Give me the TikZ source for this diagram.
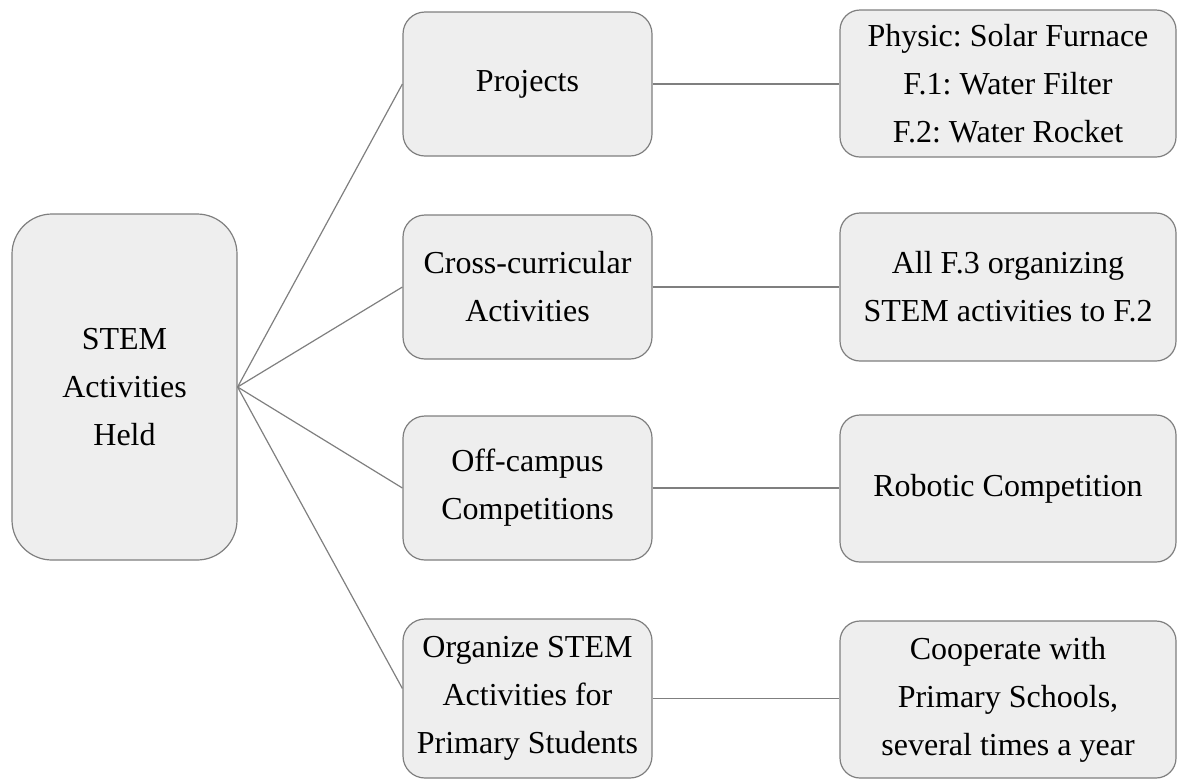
\documentclass[tikz,border=0pt]{standalone}
\usepackage{fontspec}
\setmainfont{Liberation Serif}
\definecolor{boxfill}{HTML}{EEEEEE}
\definecolor{boxline}{HTML}{7F7F7F}
\frenchspacing

\begin{document}
\begin{tikzpicture}[x=.5pt, y=-.5pt,
    box/.style={draw=boxline, fill=boxfill, line width=.6pt, align=center,
      inner sep=0pt, font=\fontsize{16}{24}\selectfont},
    mid/.style={box, rounded corners=11pt, minimum width=124.5pt, minimum height=72pt},
    leaf/.style={box, rounded corners=10pt, minimum width=168pt, minimum height=73.5pt},
    link/.style={draw=boxline, line width=.6pt}]
  \useasboundingbox (0,0) rectangle (1177,778);
  \node[box, rounded corners=20pt, minimum width=112.5pt, minimum height=173pt] (hub) at (124.5,387) {STEM\\Activities\\Held};

  \node[mid] (proj) at (527.5,84) {Projects};
  \node[mid] (cross) at (527.5,287) {Cross-curricular\\Activities};
  \node[mid] (off) at (527.5,488) {Off-campus\\Competitions};
  \node[mid, minimum height=79.5pt] (org) at (527.5,698.5) {Organize STEM\\Activities for\\Primary Students};

  \node[leaf] (solar) at (1008,83.5) {Physic: Solar Furnace\\F.1: Water Filter\\F.2: Water Rocket};
  \node[leaf, minimum height=74pt] (allf) at (1008,287) {All F.3 organizing\\STEM activities to F.2};
  \node[leaf] (robot) at (1008,488.5) {Robotic Competition};
  \node[leaf, minimum height=78.5pt] (coop) at (1008,699.5) {\raisebox{-4pt}{\parbox{165pt}{\centering Cooperate with\\Primary Schools,\\several times a year}}};

  \draw[link] (hub.east) -- (proj.west);
  \draw[link] (hub.east) -- (cross.west);
  \draw[link] (hub.east) -- (off.west);
  \draw[link] (hub.east) -- ([yshift=5pt]org.west);

  \draw[link] (proj.east) -- (proj.east -| solar.west);
  \draw[link] (cross.east) -- (cross.east -| allf.west);
  \draw[link] (off.east) -- (off.east -| robot.west);
  \draw[link] (org.east) -- (org.east -| coop.west);
\end{tikzpicture}
\end{document}
